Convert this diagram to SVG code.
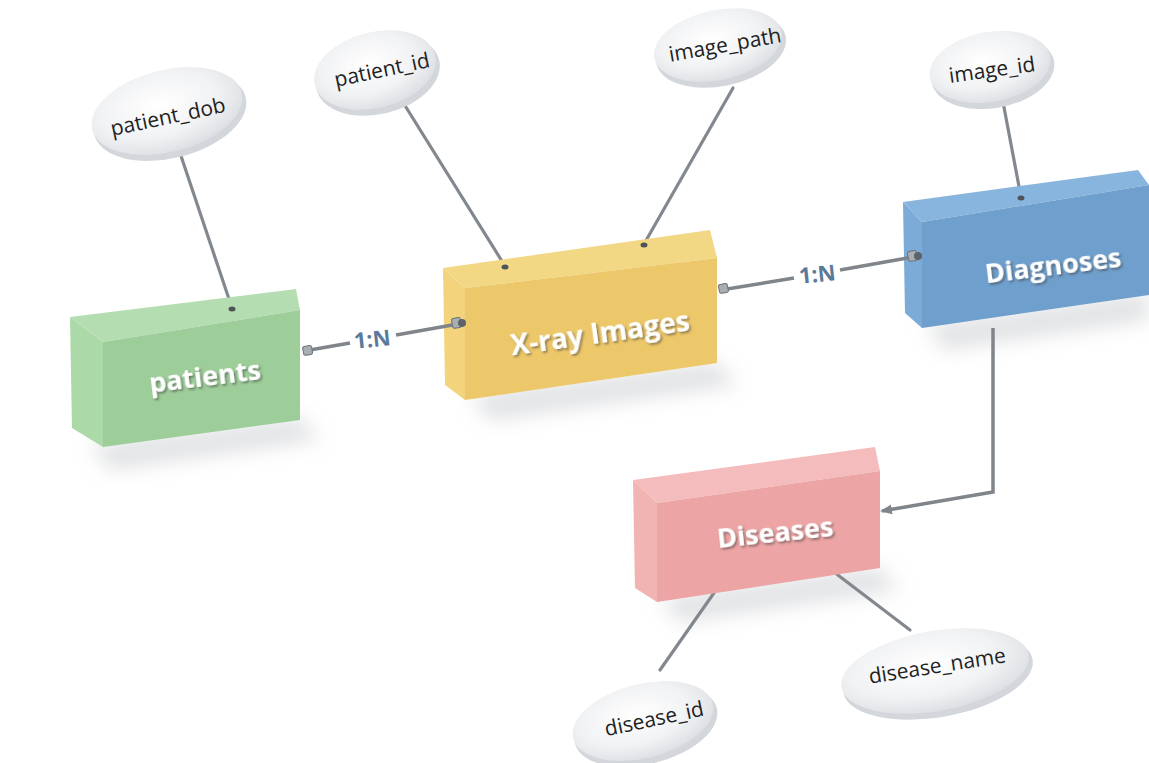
<svg xmlns="http://www.w3.org/2000/svg" width="1149" height="763" viewBox="0 0 1149 763">
  <defs>
    <radialGradient id="disk" cx="0.45" cy="0.4" r="0.65">
      <stop offset="0" stop-color="#ffffff"/>
      <stop offset="0.6" stop-color="#f1f2f4"/>
      <stop offset="1" stop-color="#d9dce0"/>
    </radialGradient>
    <filter id="soft" x="-30%" y="-30%" width="160%" height="160%">
      <feGaussianBlur stdDeviation="10"/>
    </filter>
    <filter id="txtshadow" x="-10%" y="-30%" width="120%" height="160%">
      <feDropShadow dx="1.5" dy="2" stdDeviation="1.2" flood-color="#3b3b3b" flood-opacity="0.55"/>
    </filter>
    <marker id="arrow" markerWidth="12" markerHeight="10" refX="10" refY="5" orient="auto" markerUnits="userSpaceOnUse">
      <path d="M0,0 L12,5 L0,10 Z" fill="#7f858b"/>
    </marker>
  </defs>
  <style>
    .lbl { font-family: "Open Sans", "Noto Sans", sans-serif; font-weight: 700; fill: #ffffff; text-anchor: middle; }
    .attr { font-family: "Open Sans", "Noto Sans", sans-serif; font-size: 21px; fill: #222222; text-anchor: middle; }
    .card { font-family: "Open Sans", "Noto Sans", sans-serif; font-weight: 700; font-size: 22px; fill: #5b7a9a; text-anchor: middle; }
    .stem { stroke: #83888e; stroke-width: 3.2; stroke-linecap: round; fill: none; }
    .link { stroke: #80858b; stroke-width: 3.5; fill: none; }
    .edge { fill: #d3d6da; }
    .hole { fill: #4d5358; }
    .nut { fill: #a9aeb3; stroke: #6b7177; stroke-width: 1; }
    .shadow { fill: #c2c5c9; opacity: 0.5; }
  </style>

  <rect width="1149" height="763" fill="#ffffff"/>

  <!-- soft floor shadows under the boxes -->
  <g id="shadows">
    <polygon class="shadow" points="90,445 300,418 320,440 110,470" filter="url(#soft)"/>
    <polygon class="shadow" points="470,395 715,362 738,385 490,420" filter="url(#soft)"/>
    <polygon class="shadow" points="925,325 1149,292 1149,320 945,350" filter="url(#soft)"/>
    <polygon class="shadow" points="660,598 878,567 900,590 680,622" filter="url(#soft)"/>
  </g>

  <!-- attribute stems -->
  <g id="stems">
    <line class="stem" x1="179" y1="150" x2="232" y2="308"/>
    <line class="stem" x1="404" y1="104" x2="505" y2="266"/>
    <line class="stem" x1="733" y1="88" x2="644" y2="244"/>
    <line class="stem" x1="1003" y1="102" x2="1021" y2="197"/>
    <line class="stem" x1="716" y1="590" x2="660" y2="670"/>
    <line class="stem" x1="826" y1="566" x2="910" y2="630"/>
  </g>

  <!-- entity: patients -->
  <g id="patients">
    <polygon points="70,317 103,342 103,447 72,428" fill="#acd9a8"/>
    <polygon points="70,317 296,289 300,310 103,342" fill="#b4ddb1"/>
    <polygon points="103,342 300,310 300,420 103,447" fill="#9dcd99"/>
    <ellipse class="hole" cx="232" cy="309" rx="3.5" ry="2.5"/>
    <text class="lbl" x="205" y="386" font-size="27" transform="rotate(-7 205 378)" filter="url(#txtshadow)">patients</text>
  </g>

  <!-- entity: X-ray Images -->
  <g id="xray">
    <polygon points="443,268 465,288 465,400 445,385" fill="#f3d47d"/>
    <polygon points="443,268 710,230 717,258 465,288" fill="#f2d785"/>
    <polygon points="465,288 717,258 717,363 465,400" fill="#edc86a"/>
    <ellipse class="hole" cx="505" cy="267" rx="3.5" ry="2.5"/>
    <ellipse class="hole" cx="644" cy="245" rx="3.5" ry="2.5"/>
    <text class="lbl" x="600" y="343" font-size="28" transform="rotate(-8 600 333)" filter="url(#txtshadow)">X-ray Images</text>
  </g>

  <!-- entity: Diagnoses -->
  <g id="diagnoses">
    <polygon points="903,202 922,222 922,328 905,313" fill="#7cabd7"/>
    <polygon points="903,202 1138,170 1149,185 922,222" fill="#88b5dd"/>
    <polygon points="922,222 1149,185 1149,295 922,328" fill="#6f9fcc"/>
    <ellipse class="hole" cx="1021" cy="198" rx="3.5" ry="2.5"/>
    <text class="lbl" x="1053" y="275" font-size="27" transform="rotate(-7 1053 265)" filter="url(#txtshadow)">Diagnoses</text>
  </g>

  <!-- entity: Diseases -->
  <g id="diseases">
    <polygon points="633,480 657,503 657,602 635,588" fill="#f2b3b3"/>
    <polygon points="633,480 875,447 880,471 657,503" fill="#f4bcbc"/>
    <polygon points="657,503 880,471 880,568 657,602" fill="#eca4a4"/>
    <text class="lbl" x="775" y="542" font-size="27" transform="rotate(-6 775 532)" filter="url(#txtshadow)">Diseases</text>
  </g>

  <!-- relationships -->
  <g id="connectors">
    <!-- patients 1:N X-ray Images -->
    <line class="link" x1="304" y1="351" x2="350" y2="343"/>
    <line class="link" x1="396" y1="335" x2="458" y2="324"/>
    <rect class="nut" x="303" y="346" width="9" height="9" rx="2" transform="rotate(-10 307 350)"/>
    <rect class="nut" x="452" y="318" width="9" height="10" rx="2" transform="rotate(-10 456 323)"/>
    <circle cx="462" cy="323" r="4" fill="#5d6369"/>
    <text class="card" x="372" y="347" transform="rotate(-6 372 338)">1:N</text>

    <!-- X-ray Images 1:N Diagnoses -->
    <line class="link" x1="721" y1="290" x2="794" y2="278"/>
    <line class="link" x1="840" y1="270" x2="913" y2="257"/>
    <rect class="nut" x="719" y="284" width="9" height="9" rx="2" transform="rotate(-10 723 289)"/>
    <rect class="nut" x="908" y="251" width="9" height="10" rx="2" transform="rotate(-10 912 256)"/>
    <circle cx="918" cy="256" r="4" fill="#5d6369"/>
    <text class="card" x="817" y="282" transform="rotate(-6 817 273)">1:N</text>

    <!-- Diagnoses to Diseases -->
    <polyline class="link" points="993,328 993,492 882,511" marker-end="url(#arrow)"/>
  </g>

  <!-- attributes -->
  <g id="attr-patient_dob">
    <ellipse class="edge" cx="170" cy="116" rx="78" ry="42" transform="rotate(-14 170 116)"/>
    <ellipse cx="167" cy="111" rx="77" ry="41" fill="url(#disk)" transform="rotate(-14 167 111)"/>
    <text class="attr" x="168" y="124" transform="rotate(-12 168 117)">patient_dob</text>
  </g>
  <g id="attr-patient_id">
    <ellipse class="edge" cx="378" cy="75" rx="63" ry="39" transform="rotate(-14 378 75)"/>
    <ellipse cx="375" cy="70" rx="62" ry="38" fill="url(#disk)" transform="rotate(-14 375 70)"/>
    <text class="attr" x="382" y="77" transform="rotate(-12 382 70)">patient_id</text>
  </g>
  <g id="attr-image_path">
    <ellipse class="edge" cx="721" cy="50" rx="66" ry="36" transform="rotate(-12 721 50)"/>
    <ellipse cx="718" cy="45" rx="65" ry="35" fill="url(#disk)" transform="rotate(-12 718 45)"/>
    <text class="attr" x="725" y="52" transform="rotate(-10 725 45)">image_path</text>
  </g>
  <g id="attr-image_id">
    <ellipse class="edge" cx="993" cy="72" rx="62" ry="36" transform="rotate(-10 993 72)"/>
    <ellipse cx="990" cy="67" rx="61" ry="35" fill="url(#disk)" transform="rotate(-10 990 67)"/>
    <text class="attr" x="992" y="77" transform="rotate(-8 992 70)">image_id</text>
  </g>
  <g id="attr-disease_id">
    <ellipse class="edge" cx="646" cy="726" rx="73" ry="38" transform="rotate(-14 646 726)"/>
    <ellipse cx="643" cy="721" rx="72" ry="37" fill="url(#disk)" transform="rotate(-14 643 721)"/>
    <text class="attr" x="654" y="726" font-size="22" transform="rotate(-12 654 718)">disease_id</text>
  </g>
  <g id="attr-disease_name">
    <ellipse class="edge" cx="938" cy="676" rx="96" ry="41" transform="rotate(-10 938 676)"/>
    <ellipse cx="935" cy="671" rx="95" ry="40" fill="url(#disk)" transform="rotate(-10 935 671)"/>
    <text class="attr" x="937" y="673" font-size="22" transform="rotate(-9 937 665)">disease_name</text>
  </g>
</svg>
